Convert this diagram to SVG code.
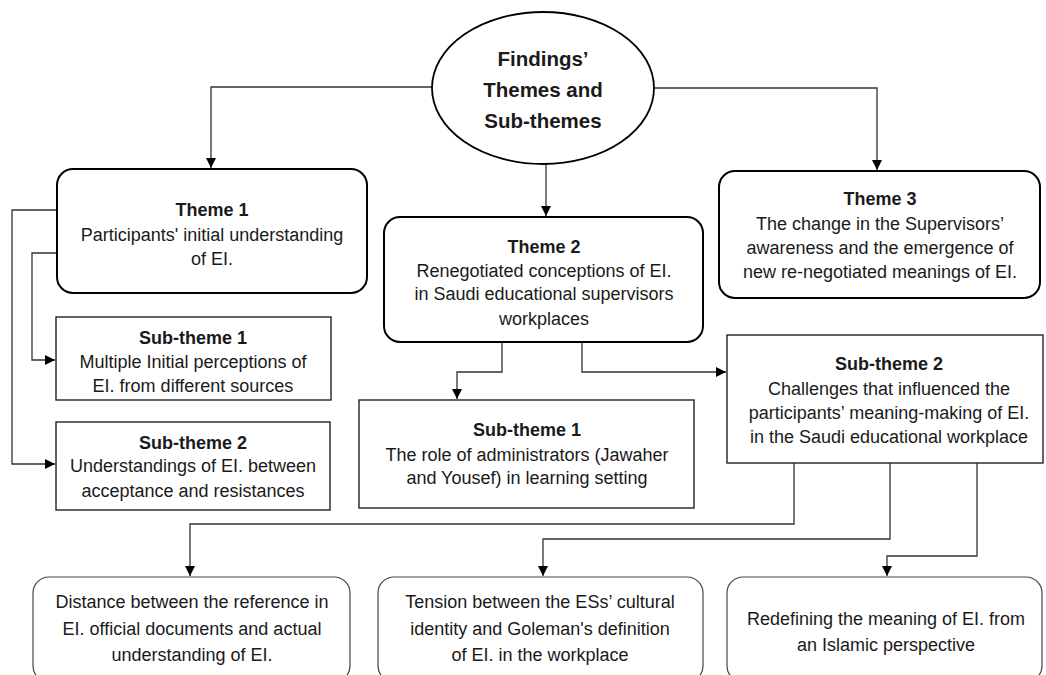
<svg xmlns="http://www.w3.org/2000/svg" width="1046" height="675" viewBox="0 0 1046 675">
<style>
text{font-family:"Liberation Sans",Arial,sans-serif;font-size:18px;fill:#1a1a1a;text-anchor:middle}
.b{font-weight:bold}
.t{font-size:20.5px;font-weight:bold}
.theme{fill:#fff;stroke:#000;stroke-width:2}
.sub{fill:#fff;stroke:#222;stroke-width:1.4}
.leaf{fill:#fff;stroke:#444;stroke-width:1.2}
.c{fill:none;stroke:#333;stroke-width:1.3}
</style>
<defs>
<marker id="ah" viewBox="0 0 10 10" refX="10" refY="5" markerWidth="10" markerHeight="10" markerUnits="userSpaceOnUse" orient="auto">
<path d="M0,0 L10,5 L0,10 z" fill="#000"/>
</marker>
</defs>
<rect width="1046" height="675" fill="#fff"/>
<g id="connectors">
<path class="c" d="M432,87 H211 V168" marker-end="url(#ah)"/>
<path class="c" d="M546,164 V216" marker-end="url(#ah)"/>
<path class="c" d="M655,88 H877 V170" marker-end="url(#ah)"/>
<path class="c" d="M57,210 H12 V464 H55" marker-end="url(#ah)"/>
<path class="c" d="M57,253 H32 V360 H55" marker-end="url(#ah)"/>
<path class="c" d="M502,342 V372 H457 V399" marker-end="url(#ah)"/>
<path class="c" d="M582,342 V372 H726" marker-end="url(#ah)"/>
<path class="c" d="M794,463 V524 H190 V576" marker-end="url(#ah)"/>
<path class="c" d="M890,463 V539 H543 V576" marker-end="url(#ah)"/>
<path class="c" d="M977,463 V556 H887 V576" marker-end="url(#ah)"/>
</g>
<g id="root">
<ellipse cx="543" cy="88" rx="111" ry="76" fill="#fff" stroke="#000" stroke-width="1.8"/>
<text class="t" x="543" y="66">Findings’</text>
<text class="t" x="543" y="97">Themes and</text>
<text class="t" x="543" y="128">Sub-themes</text>
</g>
<g id="theme1">
<rect class="theme" x="57" y="169" width="310" height="124" rx="16"/>
<text class="b" x="212" y="216">Theme 1</text>
<text x="212" y="241">Participants' initial understanding</text>
<text x="212" y="265">of EI.</text>
</g>
<g id="theme2">
<rect class="theme" x="384" y="217" width="319" height="125" rx="16"/>
<text class="b" x="544" y="253">Theme 2</text>
<text x="544" y="277">Renegotiated conceptions of EI.</text>
<text x="544" y="300">in Saudi educational supervisors</text>
<text x="544" y="325">workplaces</text>
</g>
<g id="theme3">
<rect class="theme" x="719" y="171" width="321" height="127" rx="16"/>
<text class="b" x="880" y="205">Theme 3</text>
<text x="880" y="230">The change in the Supervisors’</text>
<text x="880" y="254">awareness and the emergence of</text>
<text x="880" y="278">new re-negotiated meanings of EI.</text>
</g>
<g id="t1sub1">
<rect class="sub" x="56" y="317" width="275" height="83"/>
<text class="b" x="193" y="344">Sub-theme 1</text>
<text x="193" y="368">Multiple Initial perceptions of</text>
<text x="193" y="392">EI. from different sources</text>
</g>
<g id="t1sub2">
<rect class="sub" x="56" y="422" width="274" height="88"/>
<text class="b" x="193" y="449">Sub-theme 2</text>
<text x="193" y="472">Understandings of EI. between</text>
<text x="193" y="497">acceptance and resistances</text>
</g>
<g id="t2sub1">
<rect class="sub" x="359" y="400" width="335" height="108"/>
<text class="b" x="527" y="436">Sub-theme 1</text>
<text x="527" y="461">The role of administrators (Jawaher</text>
<text x="527" y="484">and Yousef) in learning setting</text>
</g>
<g id="t2sub2">
<rect class="sub" x="727" y="335" width="316" height="128"/>
<text class="b" x="889" y="370">Sub-theme 2</text>
<text x="889" y="395">Challenges that influenced the</text>
<text x="889" y="419">participants’ meaning-making of EI.</text>
<text x="889" y="443">in the Saudi educational workplace</text>
</g>
<g id="leaf1">
<rect class="leaf" x="33" y="577" width="317" height="105" rx="16"/>
<text x="192" y="608">Distance between the reference in</text>
<text x="192" y="635">EI. official documents and actual</text>
<text x="192" y="661">understanding of EI.</text>
</g>
<g id="leaf2">
<rect class="leaf" x="378" y="577" width="325" height="105" rx="16"/>
<text x="540" y="608">Tension between the ESs’ cultural</text>
<text x="540" y="635">identity and Goleman's definition</text>
<text x="540" y="661">of EI. in the workplace</text>
</g>
<g id="leaf3">
<rect class="leaf" x="727" y="577" width="315" height="105" rx="16"/>
<text x="886" y="625">Redefining the meaning of EI. from</text>
<text x="886" y="651">an Islamic perspective</text>
</g>
</svg>
